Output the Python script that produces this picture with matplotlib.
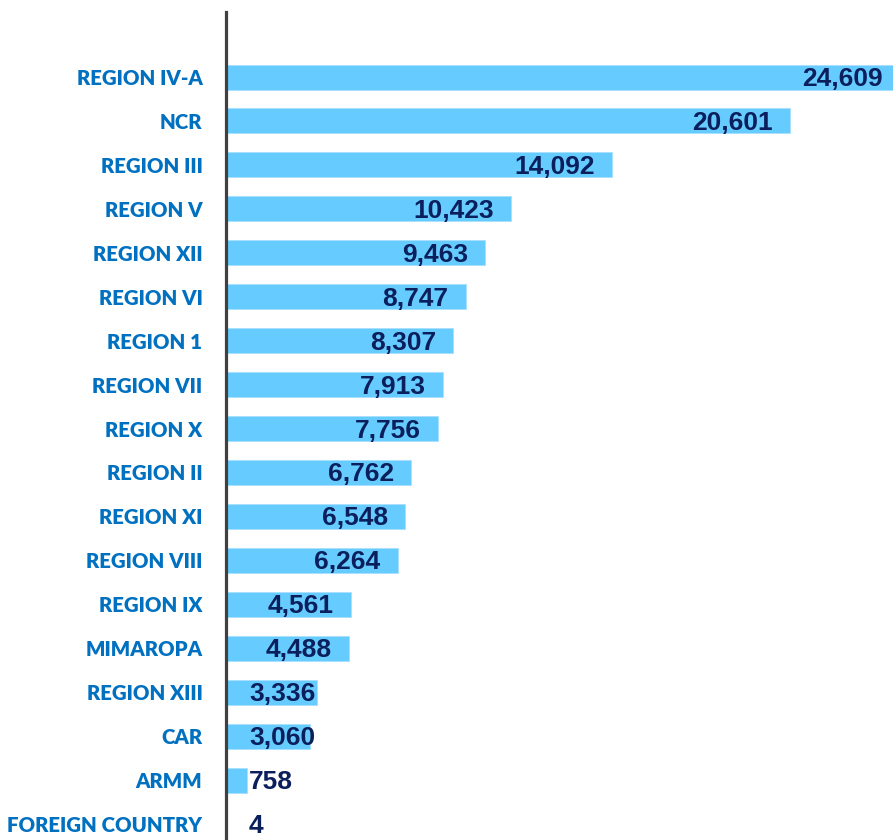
import matplotlib
matplotlib.use('Agg')
import matplotlib.pyplot as plt

regions = ['REGION IV-A', 'NCR', 'REGION III', 'REGION V', 'REGION XII', 'REGION VI',
           'REGION 1', 'REGION VII', 'REGION X', 'REGION II', 'REGION XI', 'REGION VIII',
           'REGION IX', 'MIMAROPA', 'REGION XIII', 'CAR', 'ARMM', 'FOREIGN COUNTRY']
counts = [24609, 20601, 14092, 10423, 9463, 8747, 8307, 7913, 7756, 6762, 6548, 6264,
          4561, 4488, 3336, 3060, 758, 4]

W, H, DPI = 893, 840, 100
fig = plt.figure(figsize=(W/DPI, H/DPI), dpi=DPI)
ax = fig.add_axes([226/W, 0, 1 - 226/W, 1 - 12/H])

ypos = list(range(len(regions)))
ax.barh(ypos, counts, height=0.57, color='#66CCFF', edgecolor='#A8E0FF', linewidth=0.6)

ax.set_xlim(0, 24360)
ax.set_ylim(len(regions) - 1 + 0.364, -1.48)

for s in ['top', 'right', 'bottom']:
    ax.spines[s].set_visible(False)
ax.spines['left'].set_color('#404040')
ax.spines['left'].set_linewidth(2.3)
ax.set_xticks([])
ax.set_yticks(ypos)
ax.set_yticklabels(regions, family='Lato', fontweight='heavy', fontsize=14.7, color='#0070C0')
ax.tick_params(axis='y', length=0, pad=17)

# value labels: inside end of bar, pushed right when the bar is too short
px = 72.0 / DPI
texts = []
for i, v in enumerate(counts):
    t = ax.annotate(f'{v:,}', xy=(v, i), xytext=(-17*px, -2*px), textcoords='offset points',
                    ha='right', va='center', family='Liberation Sans', fontweight='bold',
                    fontsize=19, color='#0A1F5C', annotation_clip=False)
    texts.append(t)

fig.canvas.draw()
r = fig.canvas.get_renderer()
min_left = 249
for i, t in enumerate(texts):
    bb = t.get_window_extent(r)
    if bb.x0 < min_left:
        t.xy = (0, i)
        t.set_ha('left')
        t.set_position((23*px, -2*px))

fig.savefig('out.png', dpi=DPI)
